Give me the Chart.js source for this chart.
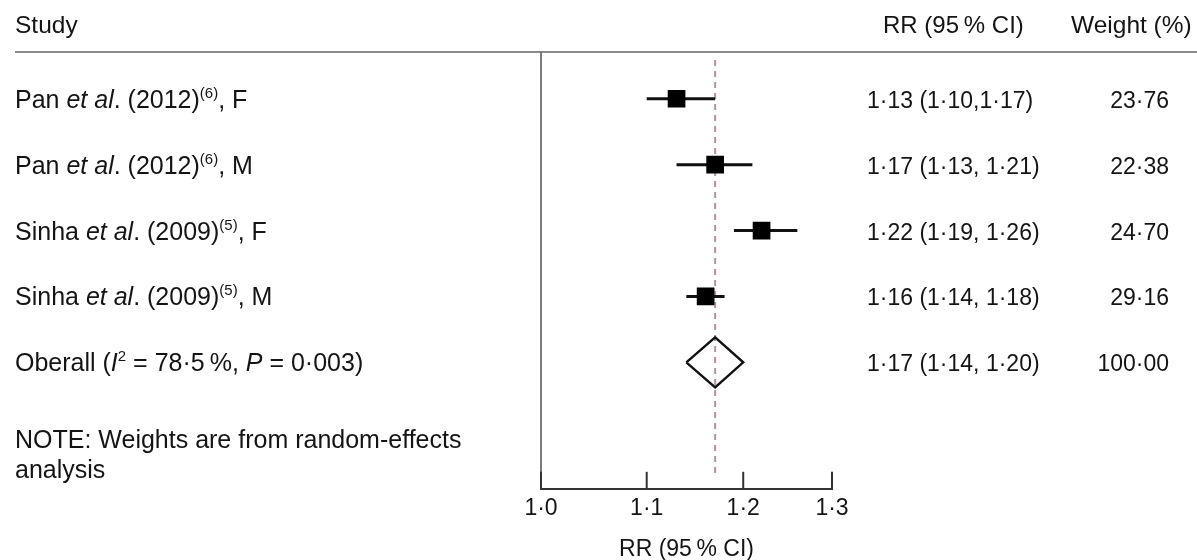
<!DOCTYPE html>
<html>
<head>
<meta charset="utf-8">
<script src="https://cdn.jsdelivr.net/npm/chart.js@4.4.1/dist/chart.umd.min.js"></script>
<style>
  html, body { margin: 0; padding: 0; background: #fff; }
  #wrap { width: 1197px; height: 560px; position: relative; }
</style>
</head>
<body>
<div id="wrap"><canvas id="forest"></canvas></div>
<script>
// study rows
const authors = ["Pan", "Pan", "Sinha", "Sinha"];
const years = ["2012", "2012", "2009", "2009"];
const refs = ["6", "6", "5", "5"];
const sexes = ["F", "M", "F", "M"];
const rr = [1.13, 1.17, 1.22, 1.16];
const lower = [1.10, 1.13, 1.19, 1.14];
const upper = [1.17, 1.21, 1.26, 1.18];
const ciText = ["1·13 (1·10,1·17)", "1·17 (1·13, 1·21)", "1·22 (1·19, 1·26)", "1·16 (1·14, 1·18)"];
const weights = ["23·76", "22·38", "24·70", "29·16"];

// pooled estimate
const overallRR = 1.17;
const overallLower = 1.14;
const overallUpper = 1.20;
const overallCiText = "1·17 (1·14, 1·20)";
const overallWeight = "100·00";

const xTicks = [1.0, 1.1, 1.2, 1.3];

const FONT = "Liberation Sans, Arial, Helvetica, sans-serif";
const SIZE = 23;
const TEXT = "#141414";
const rows = rr.map((_, i) => i + 1);
const overallRow = rows.length + 1;

// draw a list of [text, style] runs, style: n = normal, i = italic, s = superscript
function drawRuns(ctx, runs, x, y, size) {
  size = size || SIZE;
  runs.forEach(([txt, st]) => {
    if (st === "s") {
      ctx.font = Math.round(size * 0.6) + "px " + FONT;
      ctx.fillText(txt, x, y - 10);
    } else {
      ctx.font = (st === "i" ? "italic " : "") + size + "px " + FONT;
      ctx.fillText(txt, x, y);
    }
    x += ctx.measureText(txt).width;
  });
}

function rightText(ctx, txt, x, y) {
  ctx.textAlign = "right";
  ctx.font = SIZE + "px " + FONT;
  ctx.fillText(txt, x, y);
  ctx.textAlign = "left";
}

const textPlugin = {
  id: "forestText",
  beforeDatasetsDraw(chart) {
    const ctx = chart.ctx;
    const xs = chart.scales.x;
    const area = chart.chartArea;
    ctx.save();
    // header rule
    ctx.strokeStyle = "#8a8a8a";
    ctx.lineWidth = 2;
    ctx.beginPath();
    ctx.moveTo(15, area.top);
    ctx.lineTo(1197, area.top);
    ctx.stroke();
    // vertical line at left of plot
    ctx.strokeStyle = "#7a7a7a";
    ctx.beginPath();
    ctx.moveTo(xs.left, area.top);
    ctx.lineTo(xs.left, area.bottom);
    ctx.stroke();
    // inward tick marks
    ctx.strokeStyle = "#333";
    xs.ticks.forEach(t => {
      const px = xs.getPixelForValue(t.value);
      ctx.beginPath();
      ctx.moveTo(px, area.bottom);
      ctx.lineTo(px, area.bottom - 17);
      ctx.stroke();
    });
    ctx.restore();
  },
  afterDraw(chart) {
    const ctx = chart.ctx;
    const ys = chart.scales.y;
    ctx.save();
    ctx.fillStyle = TEXT;
    ctx.textBaseline = "alphabetic";
    ctx.textAlign = "left";

    drawRuns(ctx, [["Study", "n"]], 15, 33, 24.5);
    drawRuns(ctx, [["RR (95\u2009% CI)", "n"]], 883, 33, 24);
    drawRuns(ctx, [["Weight (%)", "n"]], 1071, 33, 24.5);

    rows.forEach((r, i) => {
      const y = ys.getPixelForValue(r) + 9;
      drawRuns(ctx, [
        [authors[i] + " ", "n"], ["et al", "i"], [". (" + years[i] + ")", "n"],
        ["(" + refs[i] + ")", "s"], [", " + sexes[i], "n"]
      ], 15, y, 25);
      drawRuns(ctx, [[ciText[i], "n"]], 867, y);
      rightText(ctx, weights[i], 1169, y);
    });

    const yo = ys.getPixelForValue(overallRow) + 9;
    drawRuns(ctx, [
      ["Oberall (", "n"], ["I", "i"], ["2", "s"], [" = 78·5\u2009%, ", "n"],
      ["P", "i"], [" = 0·003)", "n"]
    ], 15, yo, 25);
    drawRuns(ctx, [[overallCiText, "n"]], 867, yo);
    rightText(ctx, overallWeight, 1169, yo);

    drawRuns(ctx, [["NOTE: Weights are from random-effects", "n"]], 15, ys.getPixelForValue(6.18) + 8, 25);
    drawRuns(ctx, [["analysis", "n"]], 15, ys.getPixelForValue(6.64) + 8, 25);
    ctx.restore();
  }
};

const ciSets = rows.map((r, i) => ({
  data: [{ x: lower[i], y: r }, { x: upper[i], y: r }],
  showLine: true,
  borderColor: "#111",
  borderWidth: 3,
  pointRadius: 0,
  order: 2
}));

const diamondHalf = 0.38;

new Chart(document.getElementById("forest"), {
  type: "scatter",
  data: {
    datasets: [
      {
        data: [{ x: overallRR, y: 0.41 }, { x: overallRR, y: 6.7 }],
        showLine: true,
        borderColor: "#b3929a",
        borderWidth: 2,
        borderDash: [6, 5],
        pointRadius: 0,
        order: 5
      },
      ...ciSets,
      {
        data: rows.map((r, i) => ({ x: rr[i], y: r })),
        pointStyle: "rect",
        pointRadius: 12.5,
        backgroundColor: "#000",
        borderColor: "#000",
        borderWidth: 0,
        order: 1
      },
      {
        data: [
          { x: overallLower, y: overallRow },
          { x: overallRR, y: overallRow - diamondHalf },
          { x: overallUpper, y: overallRow },
          { x: overallRR, y: overallRow + diamondHalf },
          { x: overallLower, y: overallRow }
        ],
        showLine: true,
        borderColor: "#111",
        borderWidth: 2.4,
        backgroundColor: "#fff",
        fill: false,
        tension: 0,
        pointRadius: 0,
        order: 1
      }
    ]
  },
  options: {
    responsive: true,
    maintainAspectRatio: false,
    animation: false,
    layout: { padding: { left: 541, right: 365, top: 52, bottom: 0 } },
    plugins: { legend: { display: false }, tooltip: { enabled: false } },
    scales: {
      x: {
        type: "logarithmic",
        min: 1.0,
        max: 1.3,
        afterBuildTicks: s => { s.ticks = xTicks.map(v => ({ value: v })); },
        grid: { display: false, drawTicks: false },
        border: { display: true, color: "#333", width: 2 },
        ticks: {
          autoSkip: false,
          maxRotation: 0,
          padding: 6,
          color: TEXT,
          font: { family: FONT, size: SIZE },
          callback: v => Number(v).toFixed(1).replace(".", "·")
        },
        title: {
          display: true,
          text: "RR (95\u2009% CI)",
          color: TEXT,
          font: { family: FONT, size: SIZE },
          padding: { top: 7, bottom: -3 }
        }
      },
      y: {
        display: false,
        reverse: true,
        min: 0.29,
        max: 6.92
      }
    }
  },
  plugins: [textPlugin]
});
</script>
</body>
</html>
